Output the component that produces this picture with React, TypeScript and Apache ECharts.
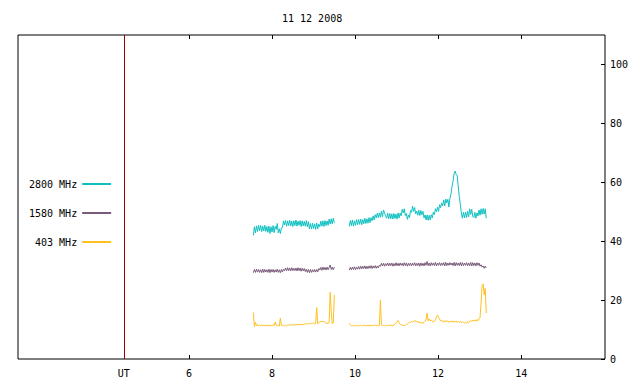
import React, { useEffect, useRef } from "react";
import * as echarts from "echarts";

const TITLE = "11 12 2008";
const SERIES_NAMES = ["2800 MHz", "1580 MHz", "403 MHz"];
const SERIES_COLORS = ["#10c0c0", "#7a5a7a", "#ffc020"];
const UT_TIME = 4.43;
const X_MIN = 1.88;
const X_MAX = 16.02;
const Y_MIN = 0;
const Y_MAX = 110;
const X_TICKS = [6, 8, 10, 12, 14];
const Y_TICKS = [0, 20, 40, 60, 80, 100];

// sample times (UT hours): segment start and sampling step
const SEG1_START = 7.55;
const SEG2_START = 9.86;
const STEP = 0.025;

const cyanSeg1 = [
  42.0, 44.9, 42.8, 45.2, 43.3, 45.4, 43.6, 45.3, 43.2, 45.1,
  43.5, 45.4, 43.3, 45.0, 43.0, 45.1, 42.6, 44.9, 43.1, 45.3,
  42.9, 45.0, 44.0, 46.0, 42.8, 44.2, 42.6, 44.5, 44.6, 46.9,
  45.5, 47.0, 45.1, 46.9, 45.3, 47.1, 45.2, 46.8, 45.0, 46.9,
  45.3, 47.2, 45.1, 46.8, 45.4, 47.0, 45.0, 46.9, 45.2, 46.7,
  45.1, 47.0, 44.9, 46.6, 44.2, 46.0, 44.1, 46.1, 44.3, 45.9,
  44.0, 46.2, 44.2, 45.8, 44.9, 46.8, 45.1, 46.9, 45.0, 47.0,
  45.3, 46.9, 45.4, 47.5, 45.8, 47.6, 45.9, 47.8, 46.2,
];
const cyanSeg2 = [
  45.0, 47.0, 45.3, 47.2, 45.1, 46.9, 45.4, 47.3, 45.6, 47.4,
  45.7, 47.5, 45.6, 47.3, 45.9, 47.8, 46.0, 47.6, 46.1, 48.0,
  46.3, 48.0, 46.9, 48.6, 47.2, 49.0, 47.9, 49.5, 48.0, 49.6,
  48.1, 50.2, 48.3, 50.6, 49.5, 48.6, 47.8, 49.5, 47.6, 49.4,
  47.6, 49.3, 47.5, 49.4, 47.7, 49.2, 47.5, 49.6, 47.9, 49.5,
  48.6, 50.8, 49.6, 51.0, 48.7, 49.4, 47.4, 48.9, 48.0, 50.4,
  49.8, 51.9, 50.1, 51.4, 49.3, 50.2, 48.8, 50.5, 48.7, 50.4,
  49.0, 50.1, 47.9, 48.9, 47.2, 48.9, 47.1, 48.8, 47.2, 49.0,
  47.9, 49.9, 49.0, 51.0, 50.0, 51.6, 50.1, 52.4, 51.4, 53.0,
  52.0, 54.0, 52.0, 54.3, 53.0, 54.2, 51.6, 54.6, 56.0, 58.6,
  60.5, 62.9, 63.8, 62.6, 62.4, 58.4, 55.2, 52.4, 49.6, 47.8,
  49.8, 47.9, 49.9, 48.0, 50.1, 48.3, 51.0, 49.1, 50.8, 48.4,
  48.0, 49.8, 47.8, 49.6, 48.6, 50.6, 48.8, 51.0, 49.1, 51.1,
  49.2, 51.0, 47.8,
];

const purpleSeg1 = [
  29.3, 30.4, 29.4, 30.5, 29.5, 30.4, 29.4, 30.3, 29.3, 30.5,
  29.4, 30.4, 29.5, 30.3, 29.4, 30.5, 29.3, 30.4, 29.5, 30.4,
  29.4, 30.3, 29.5, 30.5, 29.4, 30.3, 29.3, 30.4, 29.5, 30.5,
  30.0, 30.9, 29.9, 31.0, 30.0, 30.9, 29.9, 31.0, 30.0, 30.8,
  30.0, 30.9, 29.9, 31.0, 30.0, 30.9, 29.8, 30.8, 29.9, 30.7,
  29.7, 30.5, 29.4, 30.4, 29.3, 30.4, 29.4, 30.3, 29.5, 30.4,
  29.5, 30.4, 29.6, 30.7, 30.2, 31.1, 30.1, 31.2, 30.3, 31.1,
  30.2, 31.2, 30.3, 31.1, 31.9, 30.4, 31.2, 30.3, 31.2,
];
const purpleSeg2 = [
  30.2, 31.1, 30.3, 31.2, 30.4, 31.3, 30.3, 31.2, 30.5, 31.4,
  30.5, 31.5, 30.6, 31.5, 30.7, 31.6, 30.6, 31.5, 30.7, 31.6,
  30.8, 31.7, 30.7, 31.6, 30.9, 31.7, 30.8, 31.6, 30.9, 31.8,
  31.5, 32.5, 31.6, 32.5, 31.5, 32.4, 31.7, 32.6, 31.6, 32.5,
  31.7, 32.6, 31.5, 32.4, 31.6, 32.7, 31.7, 32.5, 31.6, 32.6,
  31.8, 32.5, 31.6, 32.7, 31.7, 32.6, 31.5, 32.5, 31.7, 32.6,
  31.6, 32.5, 31.8, 32.7, 31.6, 32.5, 31.7, 32.6, 31.5, 32.6,
  31.7, 32.5, 31.6, 32.7, 31.8, 33.1, 31.7, 32.6, 31.6, 32.7,
  31.8, 32.6, 31.7, 32.8, 31.6, 32.6, 31.8, 32.7, 31.7, 32.6,
  31.8, 32.7, 31.6, 32.8, 31.7, 32.6, 31.8, 32.7, 31.9, 32.6,
  31.7, 32.8, 31.6, 32.7, 31.8, 32.6, 31.7, 32.8, 31.6, 32.7,
  31.7, 32.6, 31.8, 32.7, 31.6, 32.6, 31.7, 32.8, 31.6, 32.7,
  31.7, 32.6, 31.6, 32.7, 31.8, 32.6, 31.5, 32.0, 31.2, 31.6,
  30.8, 31.5, 30.9,
];

const yellowSeg1 = [
  15.8, 11.0, 12.4, 11.3, 11.7, 11.2, 11.5, 11.3, 11.6, 11.2,
  11.5, 11.3, 11.4, 11.2, 11.6, 11.3, 11.5, 11.2, 11.4, 11.6,
  11.3, 12.6, 11.5, 11.3, 11.4, 11.2, 13.9, 11.4, 11.3, 11.5,
  11.2, 11.4, 11.3, 11.6, 11.4, 11.7, 11.5, 11.6, 11.4, 11.8,
  11.5, 11.7, 11.6, 11.8, 11.5, 11.7, 11.6, 11.9, 11.6, 11.8,
  11.9, 12.0, 11.8, 12.1, 12.0, 11.9, 12.1, 12.0, 12.2, 11.9,
  12.1, 17.5, 12.0, 12.3, 12.6, 12.8, 12.6, 12.9, 12.7, 12.5,
  12.1, 12.2, 12.0, 12.3, 22.7, 16.1, 12.0, 12.2, 21.7,
];
const yellowSeg2 = [
  12.1, 11.6, 11.3, 11.5, 11.2, 11.4, 11.3, 11.5, 11.2, 11.4,
  11.3, 11.5, 11.2, 11.4, 11.6, 11.3, 11.4, 11.2, 11.5, 11.3,
  11.4, 11.2, 11.5, 11.3, 11.4, 11.6, 11.3, 11.5, 11.2, 11.4,
  20.0, 11.5, 11.3, 11.4, 11.2, 11.5, 11.3, 11.4, 11.6, 11.3,
  11.5, 11.4, 11.3, 11.6, 11.8, 12.2, 12.6, 13.1, 12.3, 11.8,
  11.6, 11.5, 11.4, 11.3, 11.5, 11.7, 11.9, 12.2, 12.6, 12.4,
  12.8, 12.5, 12.9, 13.2, 12.6, 12.9, 12.4, 12.7, 12.2, 12.5,
  12.0, 12.3, 12.4, 12.8, 13.4, 15.6, 13.0, 13.6, 12.9, 13.3,
  12.8, 12.5, 12.9, 13.4, 14.3, 14.9, 14.2, 13.5, 12.9, 13.2,
  12.6, 12.9, 12.5, 13.1, 12.7, 12.9, 12.4, 12.8, 12.6, 13.0,
  12.5, 12.8, 12.6, 12.9, 12.4, 12.7, 12.5, 12.8, 12.3, 12.6,
  12.4, 12.1, 12.5, 12.2, 12.6, 12.3, 12.8, 13.1, 12.7, 13.2,
  12.9, 13.3, 12.8, 13.4, 13.0, 13.6, 14.1, 19.0, 25.1, 25.5,
  21.8, 24.0, 15.6,
];

const FONT = "DejaVu Sans Mono";

function buildSeries(seg1: number[], seg2: number[]) {
  const out: (number | null)[][] = [];
  seg1.forEach((v, i) => out.push([SEG1_START + i * STEP, v]));
  out.push([(SEG1_START + seg1.length * STEP + SEG2_START) / 2, null]);
  seg2.forEach((v, i) => out.push([SEG2_START + i * STEP, v]));
  return out;
}

export default function App() {
  const ref = useRef<HTMLDivElement>(null);
  useEffect(() => {
    if (!ref.current) return;
    const chart = echarts.init(ref.current, null, { renderer: "svg" });
    const datasets = [
      buildSeries(cyanSeg1, cyanSeg2),
      buildSeries(purpleSeg1, purpleSeg2),
      buildSeries(yellowSeg1, yellowSeg2),
    ];
    const txt = { fontFamily: FONT, fontSize: 10, color: "#000" };
    chart.setOption({
      animation: false,
      backgroundColor: "#fff",
      title: {
        text: TITLE,
        left: 282,
        top: 13,
        padding: 0,
        textStyle: { ...txt, fontWeight: "normal" },
      },
      legend: {
        orient: "vertical",
        left: 29,
        top: 177,
        padding: 0,
        align: "right",
        itemWidth: 29,
        itemHeight: 2,
        itemGap: 15,
        icon: "rect",
        selectedMode: false,
        data: SERIES_NAMES,
        textStyle: { ...txt, lineHeight: 14 },
      },
      grid: {
        left: 18,
        right: 35,
        top: 35,
        bottom: 25,
        show: true,
        borderColor: "#000",
        borderWidth: 1,
        backgroundColor: "transparent",
      },
      xAxis: [
        {
          type: "value",
          position: "bottom",
          min: X_MIN,
          max: X_MAX,
          axisLine: { show: false },
          splitLine: { show: false },
          axisTick: {
            inside: true,
            length: 4,
            customValues: X_TICKS,
            lineStyle: { color: "#000" },
          },
          axisLabel: {
            ...txt,
            margin: 9,
            customValues: [UT_TIME, ...X_TICKS],
            formatter: (v: number) => (Math.abs(v - UT_TIME) < 1e-6 ? "UT" : String(v)),
          },
        },
        {
          type: "value",
          position: "top",
          min: X_MIN,
          max: X_MAX,
          axisLine: { show: false },
          splitLine: { show: false },
          axisTick: {
            inside: true,
            length: 4,
            customValues: X_TICKS,
            lineStyle: { color: "#000" },
          },
          axisLabel: { show: false },
        },
      ],
      yAxis: {
        type: "value",
        position: "right",
        min: Y_MIN,
        max: Y_MAX,
        axisLine: { show: false },
        splitLine: { show: false },
        axisTick: {
          inside: true,
          length: 4,
          customValues: Y_TICKS,
          lineStyle: { color: "#000" },
        },
        axisLabel: { ...txt, margin: 5, customValues: Y_TICKS },
      },
      series: SERIES_NAMES.map((name, k) => ({
        name,
        type: "line",
        xAxisIndex: 0,
        data: datasets[k],
        showSymbol: false,
        symbol: "none",
        connectNulls: false,
        color: SERIES_COLORS[k],
        lineStyle: { color: SERIES_COLORS[k], width: 1 },
        silent: true,
        markLine:
          k === 0
            ? {
                silent: true,
                symbol: "none",
                label: { show: false },
                lineStyle: { color: "#9a0000", type: "solid", width: 1 },
                data: [{ xAxis: UT_TIME }],
              }
            : undefined,
      })),
    });
    return () => chart.dispose();
  }, []);
  return (
    <div
      ref={ref}
      style={{ position: "fixed", left: 0, top: 0, width: 640, height: 384 }}
    />
  );
}
